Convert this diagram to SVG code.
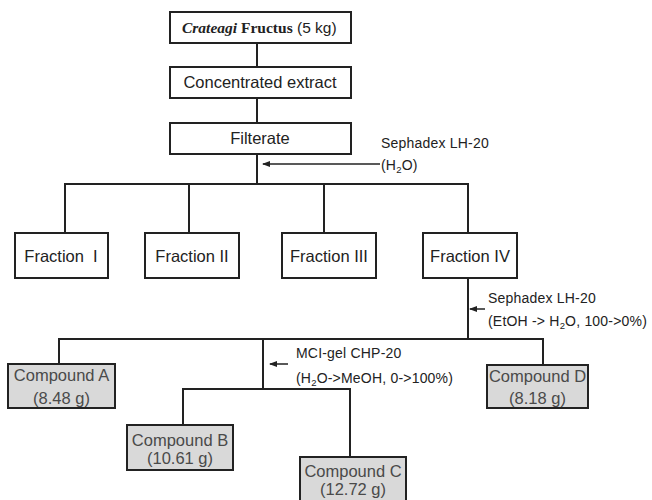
<svg xmlns="http://www.w3.org/2000/svg" width="652" height="500" viewBox="0 0 652 500">
<defs>
<style>
.box{fill:#fff;stroke:#222;stroke-width:2}
.cbox{fill:#d9d9d9;stroke:#222;stroke-width:2}
.ln{fill:none;stroke:#222;stroke-width:2}
.arr{fill:none;stroke:#222;stroke-width:1.5;marker-end:url(#ah)}
.t{font-family:"Liberation Sans",Arial,sans-serif;font-size:16.5px;fill:#222;text-anchor:middle}
.c{font-family:"Liberation Sans",Arial,sans-serif;font-size:16.5px;fill:#4a4a4a;text-anchor:middle}
.l{font-family:"Liberation Sans",Arial,sans-serif;font-size:14px;fill:#222;letter-spacing:0.2px}
.sub{font-size:9.5px}
</style>
<marker id="ah" markerWidth="8" markerHeight="6" refX="7" refY="3" orient="auto" markerUnits="userSpaceOnUse">
<path d="M0,0 L8,3 L0,6 Z" fill="#222"/>
</marker>
</defs>
<rect width="652" height="500" fill="#fff"/>
<g id="connectors">
<line class="ln" x1="257" y1="43" x2="257" y2="67"/>
<line class="ln" x1="257" y1="98" x2="257" y2="123"/>
<line class="ln" x1="257" y1="154" x2="257" y2="184"/>
<polyline class="ln" points="65,233 65,184 468,184 468,233"/>
<line class="ln" x1="189" y1="184" x2="189" y2="233"/>
<line class="ln" x1="324" y1="184" x2="324" y2="233"/>
<line class="arr" x1="380" y1="164" x2="263" y2="164"/>
<line class="ln" x1="468" y1="278" x2="468" y2="339"/>
<line class="arr" x1="485" y1="309" x2="470" y2="309"/>
<polyline class="ln" points="59,364 59,339 543,339 543,365"/>
<line class="ln" x1="263" y1="339" x2="263" y2="389"/>
<line class="arr" x1="288" y1="364" x2="270" y2="364"/>
<polyline class="ln" points="183,425 183,389 350,389 350,457"/>
</g>
<g id="n-crateagi">
<rect class="box" x="170" y="12" width="181" height="31"/>
<text x="182" y="33" font-size="15.5" fill="#222"><tspan font-family="'Liberation Serif',serif" font-style="italic" font-weight="bold">Crateagi</tspan><tspan font-family="'Liberation Serif',serif" font-weight="bold"> Fructus</tspan><tspan font-family="'Liberation Sans',sans-serif"> (5 kg)</tspan></text>
</g>
<g id="n-extract">
<rect class="box" x="170" y="67" width="181" height="31"/>
<text class="t" x="260" y="88">Concentrated extract</text>
</g>
<g id="n-filterate">
<rect class="box" x="170" y="123" width="181" height="31"/>
<text class="t" x="260" y="144">Filterate</text>
</g>
<g id="label-1">
<text class="l" x="381" y="148">Sephadex LH-20</text>
<text class="l" x="381" y="170">(H<tspan class="sub" dy="3">2</tspan><tspan dy="-3">O)</tspan></text>
</g>
<g id="n-f1">
<rect class="box" x="15" y="233" width="93" height="45"/>
<text class="t" x="61" y="262" xml:space="preserve">Fraction  I</text>
</g>
<g id="n-f2">
<rect class="box" x="145" y="233" width="94" height="45"/>
<text class="t" x="192" y="262">Fraction II</text>
</g>
<g id="n-f3">
<rect class="box" x="282" y="233" width="94" height="45"/>
<text class="t" x="329" y="262">Fraction III</text>
</g>
<g id="n-f4">
<rect class="box" x="423" y="233" width="94" height="45"/>
<text class="t" x="470" y="262">Fraction IV</text>
</g>
<g id="label-2">
<text class="l" x="488" y="303">Sephadex LH-20</text>
<text class="l" x="488" y="326">(EtOH -&gt; H<tspan class="sub" dy="3">2</tspan><tspan dy="-3">O, 100-&gt;0%)</tspan></text>
</g>
<g id="label-3">
<text class="l" x="296" y="358">MCI-gel CHP-20</text>
<text class="l" x="296" y="383">(H<tspan class="sub" dy="3">2</tspan><tspan dy="-3">O-&gt;MeOH, 0-&gt;100%)</tspan></text>
</g>
<g id="n-a">
<rect class="cbox" x="8" y="364" width="107" height="44"/>
<text class="c" x="61.5" y="381">Compound A</text>
<text class="c" x="61.5" y="404">(8.48 g)</text>
</g>
<g id="n-d">
<rect class="cbox" x="487" y="365" width="101" height="43"/>
<text class="c" x="537.5" y="382">Compound D</text>
<text class="c" x="537.5" y="404">(8.18 g)</text>
</g>
<g id="n-b">
<rect class="cbox" x="127" y="425" width="106" height="45"/>
<text class="c" x="180" y="446">Compound B</text>
<text class="c" x="180" y="464">(10.61 g)</text>
</g>
<g id="n-c">
<rect class="cbox" x="300" y="457" width="106" height="45"/>
<text class="c" x="353" y="477">Compound C</text>
<text class="c" x="353" y="495">(12.72 g)</text>
</g>
</svg>
